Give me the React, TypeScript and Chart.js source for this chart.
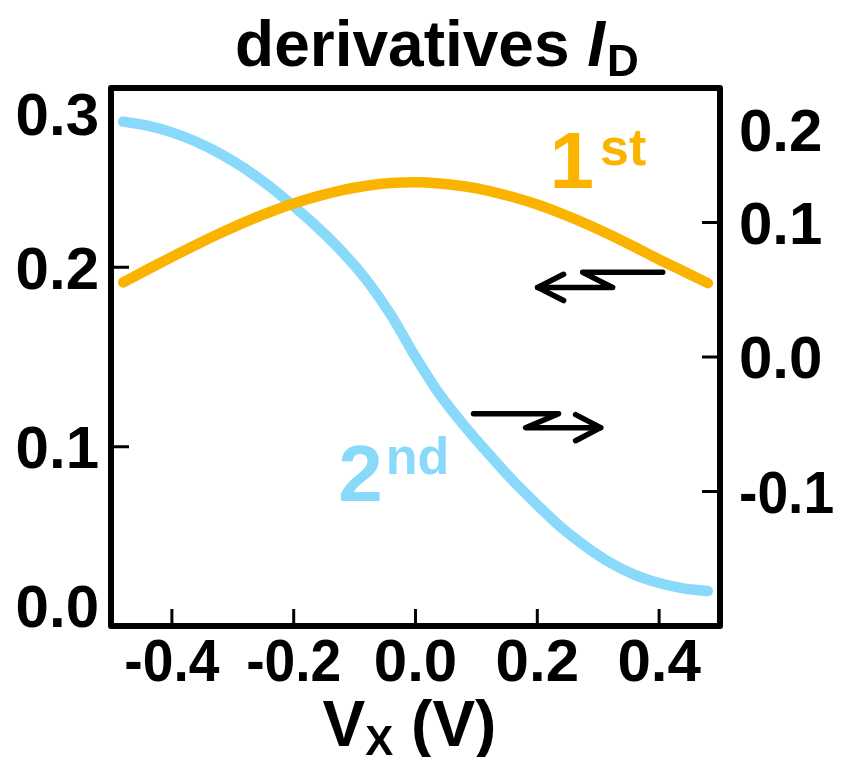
import React, { useEffect, useRef } from "react";
import { Chart, registerables } from "chart.js";

Chart.register(...registerables);

// ---- data ----
const VX = [-0.48, -0.44, -0.4, -0.36, -0.32, -0.28, -0.24, -0.2, -0.16, -0.12, -0.08, -0.04, 0, 0.04, 0.08, 0.12, 0.16, 0.2, 0.24, 0.28, 0.32, 0.36, 0.4, 0.44, 0.48];
const FIRST_DERIV = [0.1916, 0.1988, 0.2058, 0.2126, 0.2191, 0.2252, 0.2307, 0.2356, 0.2397, 0.2431, 0.2455, 0.247, 0.2475, 0.2468, 0.2452, 0.2427, 0.2392, 0.235, 0.23, 0.2243, 0.218, 0.2113, 0.2044, 0.1978, 0.1912];
const SECOND_DERIV = [0.175, 0.172, 0.167, 0.16, 0.151, 0.14, 0.127, 0.112, 0.096, 0.078, 0.057, 0.031, 0.0, -0.028, -0.051, -0.072, -0.092, -0.11, -0.127, -0.141, -0.153, -0.162, -0.168, -0.172, -0.174];

const X_TICKS = [-0.4, -0.2, 0, 0.2, 0.4];
const LEFT_TICKS = [0, 0.1, 0.2, 0.3];
const RIGHT_TICKS = [-0.1, 0, 0.1, 0.2];

const TITLE_MAIN = "derivatives ";
const TITLE_ITALIC = "I";
const TITLE_SUB = "D";
const XTITLE_MAIN = "V";
const XTITLE_SUB = "X";
const XTITLE_REST = " (V)";
const LABEL_FIRST = ["1", "st"];
const LABEL_SECOND = ["2", "nd"];

const ORANGE = "#FAB400";
const BLUE = "#89D9FB";
const FAMILY = '"Liberation Sans", Arial, Helvetica, sans-serif';

// annotation arrows in data coordinates (x, left-axis y)
const ARROW_LEFT = [[0.406, 0.1972], [0.2744, 0.1972], [0.3237, 0.1888], [0.2005, 0.1888]];
const ARROW_LEFT_HEAD = [[0.2432, 0.1961], [0.2005, 0.1888], [0.2432, 0.1815]];
const ARROW_RIGHT = [[0.0953, 0.1184], [0.235, 0.1184], [0.1808, 0.1106], [0.304, 0.1106]];
const ARROW_RIGHT_HEAD = [[0.2629, 0.1179], [0.304, 0.1106], [0.2629, 0.1033]];

const fmt = (v: number) => (Math.abs(v) < 1e-9 ? "0.0" : v.toFixed(1));

function drawParts(ctx: CanvasRenderingContext2D, parts: { t: string; font: string; dy: number; gap?: number }[], cx: number, baseline: number, hs: number, color: string, align: "center" | "left" | "right" = "center") {
  ctx.save();
  let total = 0;
  const widths = parts.map((p) => {
    ctx.font = p.font;
    const w = ctx.measureText(p.t).width + (p.gap || 0);
    total += w;
    return w;
  });
  let x = align === "center" ? cx - (total * hs) / 2 : align === "right" ? cx - total * hs : cx;
  ctx.fillStyle = color;
  ctx.textBaseline = "alphabetic";
  ctx.textAlign = "left";
  parts.forEach((p, i) => {
    ctx.font = p.font;
    ctx.save();
    ctx.translate(x + (p.gap || 0) * hs, baseline + p.dy);
    ctx.scale(hs, 1);
    ctx.fillText(p.t, 0, 0);
    ctx.restore();
    x += widths[i] * hs;
  });
  ctx.restore();
}

const decorPlugin = {
  id: "decor",
  afterDraw(chart: any) {
    const ctx: CanvasRenderingContext2D = chart.ctx;
    const { left, right, top, bottom } = chart.chartArea;
    const xs = chart.scales.x;
    const yl = chart.scales.y;
    const yr = chart.scales.y1;
    ctx.save();
    // frame
    ctx.strokeStyle = "#000";
    ctx.lineWidth = 6;
    ctx.lineJoin = "round";
    ctx.strokeRect(left, top, right - left, bottom - top);
    // ticks (inward)
    ctx.lineWidth = 3;
    ctx.beginPath();
    X_TICKS.forEach((v) => {
      const px = xs.getPixelForValue(v);
      ctx.moveTo(px, bottom);
      ctx.lineTo(px, bottom - 17);
    });
    LEFT_TICKS.slice(1, -1).forEach((v) => {
      const py = yl.getPixelForValue(v);
      ctx.moveTo(left, py);
      ctx.lineTo(left + 18, py);
    });
    RIGHT_TICKS.slice(0, -1).forEach((v) => {
      const py = yr.getPixelForValue(v);
      ctx.moveTo(right, py);
      ctx.lineTo(right - 18, py);
    });
    ctx.stroke();

    // tick labels
    const TS = 60;
    const tickFont = `bold ${TS}px ${FAMILY}`;
    const cap = TS * 0.716;
    const hsFor = (v: number) => (v < 0 ? 0.92 : 1);
    LEFT_TICKS.forEach((v) => {
      let cy = yl.getPixelForValue(v);
      cy = Math.max(top + cap / 2 + 4, Math.min(bottom - cap / 2 + 1, cy));
      drawParts(ctx, [{ t: fmt(v), font: tickFont, dy: 0 }], left - 12, cy + cap / 2, hsFor(v), "#000", "right");
    });
    RIGHT_TICKS.forEach((v) => {
      let cy = yr.getPixelForValue(v);
      cy = Math.max(top + 42, cy);
      drawParts(ctx, [{ t: fmt(v), font: tickFont, dy: 0 }], right + 19, cy + cap / 2, hsFor(v), "#000", "left");
    });
    X_TICKS.forEach((v) => {
      const px = xs.getPixelForValue(v);
      drawParts(ctx, [{ t: fmt(v), font: tickFont, dy: 0 }], px, bottom + 55, hsFor(v), "#000");
    });

    // axis title
    drawParts(
      ctx,
      [
        { t: XTITLE_MAIN, font: `bold 64px ${FAMILY}`, dy: 0 },
        { t: XTITLE_SUB, font: `bold 42px ${FAMILY}`, dy: 9 },
        { t: XTITLE_REST, font: `bold 64px ${FAMILY}`, dy: 0 },
      ],
      (left + right) / 2 - 6,
      746,
      1.0,
      "#000"
    );

    // chart title
    drawParts(
      ctx,
      [
        { t: TITLE_MAIN, font: `bold 64px ${FAMILY}`, dy: 0 },
        { t: TITLE_ITALIC, font: `italic bold 64px ${FAMILY}`, dy: 0 },
        { t: TITLE_SUB, font: `bold 44px ${FAMILY}`, dy: 10, gap: 2 },
      ],
      437,
      66,
      1.0,
      "#000"
    );

    // curve labels
    drawParts(
      ctx,
      [
        { t: LABEL_FIRST[0], font: `bold 80px ${FAMILY}`, dy: 0 },
        { t: LABEL_FIRST[1], font: `bold 52px ${FAMILY}`, dy: -23, gap: 6 },
      ],
      xs.getPixelForValue(0.22),
      yl.getPixelForValue(0.244),
      1.0,
      ORANGE,
      "left"
    );
    drawParts(
      ctx,
      [
        { t: LABEL_SECOND[0], font: `bold 80px ${FAMILY}`, dy: 0 },
        { t: LABEL_SECOND[1], font: `bold 52px ${FAMILY}`, dy: -27, gap: 3 },
      ],
      xs.getPixelForValue(-0.127),
      yr.getPixelForValue(-0.1073),
      1.0,
      BLUE,
      "left"
    );

    // arrows
    const poly = (pts: number[][]) => {
      ctx.beginPath();
      pts.forEach(([x, y], i) => {
        const px = xs.getPixelForValue(x);
        const py = yl.getPixelForValue(y);
        if (i === 0) ctx.moveTo(px, py);
        else ctx.lineTo(px, py);
      });
      ctx.stroke();
    };
    ctx.strokeStyle = "#000";
    ctx.lineWidth = 5.5;
    ctx.lineCap = "round";
    ctx.lineJoin = "round";
    poly(ARROW_LEFT);
    poly(ARROW_LEFT_HEAD);
    poly(ARROW_RIGHT);
    poly(ARROW_RIGHT_HEAD);
    ctx.restore();
  },
};

export default function App() {
  const ref = useRef<HTMLCanvasElement | null>(null);
  useEffect(() => {
    if (!ref.current) return;
    const chart = new Chart(ref.current, {
      type: "line",
      data: {
        datasets: [
          {
            label: "1st",
            data: VX.map((x, i) => ({ x, y: FIRST_DERIV[i] })),
            yAxisID: "y",
            borderColor: ORANGE,
            borderWidth: 10.5,
            borderCapStyle: "round",
            borderJoinStyle: "round",
            pointRadius: 0,
            cubicInterpolationMode: "monotone",
            fill: false,
            clip: false as any,
          },
          {
            label: "2nd",
            data: VX.map((x, i) => ({ x, y: SECOND_DERIV[i] })),
            yAxisID: "y1",
            borderColor: BLUE,
            borderWidth: 10.5,
            borderCapStyle: "round",
            borderJoinStyle: "round",
            pointRadius: 0,
            cubicInterpolationMode: "monotone",
            fill: false,
            clip: false as any,
          },
        ],
      },
      options: {
        animation: false,
        responsive: true,
        maintainAspectRatio: false,
        layout: { padding: { left: 111, right: 121, top: 88, bottom: 131 } },
        plugins: { legend: { display: false }, tooltip: { enabled: false }, title: { display: false } },
        scales: {
          x: { type: "linear", min: -0.5, max: 0.5, display: false },
          y: { type: "linear", position: "left", min: 0, max: 0.3, display: false },
          y1: { type: "linear", position: "right", min: -0.2, max: 0.2, display: false },
        },
      },
      plugins: [decorPlugin],
    });
    return () => chart.destroy();
  }, []);
  return (
    <div style={{ position: "fixed", left: 0, top: 0, width: 841, height: 757, background: "#fff" }}>
      <canvas ref={ref} />
    </div>
  );
}
